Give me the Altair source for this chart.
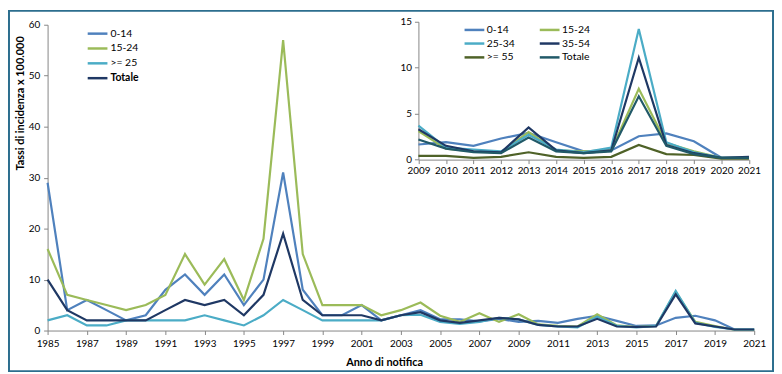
import altair as alt
import pandas as pd

# ---------------- data ----------------
years_main = list(range(1985, 2022))
main_series = ["0-14", "15-24", ">= 25", "Totale"]
main_colors = ["#4F81BD", "#9BBB59", "#4BACC6", "#1F3864"]

main_0_14 = [29, 4, 6, 4, 2, 3, 8, 11, 7, 11, 5, 10, 31, 8, 3, 3, 5, 2, 3, 4, 2.2, 2.2, 1.8, 2.3,
             1.7, 1.9, 1.5, 2.3, 2.9, 1.9, 0.9, 1.0, 2.5, 2.9, 2.0, 0.2, 0.2]
main_15_24 = [16, 7, 6, 5, 4, 5, 7, 15, 9, 14, 6, 18, 57, 15, 5, 5, 5, 3, 4, 5.5, 2.9, 1.7, 3.4, 1.7,
              3.2, 1.2, 0.9, 0.8, 3.2, 1.0, 0.7, 0.9, 7.6, 1.7, 0.9, 0.15, 0.15]
main_25 = [2, 3, 1, 1, 2, 2, 2, 2, 3, 2, 1, 3, 6, 4, 2, 2, 2, 2, 3, 3.1, 1.7, 1.3, 1.7, 2.5,
           2.2, 1.1, 0.8, 0.6, 2.7, 0.9, 0.6, 0.9, 7.8, 1.5, 0.7, 0.2, 0.2]
main_tot = [10, 4, 2, 2, 2, 2, 4, 6, 5, 6, 3, 7, 19, 6, 3, 3, 3, 2, 3, 3.6, 2.0, 1.5, 2.0, 2.5,
            2.2, 1.1, 0.8, 0.8, 2.3, 0.8, 0.7, 0.8, 7.1, 1.4, 0.8, 0.2, 0.2]
main_ticks = list(range(1985, 2022, 2))
main_yticks = [0, 10, 20, 30, 40, 50, 60]

years_inset = list(range(2009, 2022))
inset_series = ["0-14", "15-24", "25-34", "35-54", ">= 55", "Totale"]
inset_colors = ["#4F81BD", "#9BBB59", "#4BACC6", "#1F3864", "#4F6228", "#215968"]
inset_0_14 = [1.65, 1.9, 1.5, 2.3, 2.9, 1.9, 0.9, 1.0, 2.55, 2.85, 2.0, 0.2, 0.2]
inset_15_24 = [3.1, 1.2, 0.9, 0.8, 3.0, 1.0, 0.9, 1.0, 7.7, 1.8, 0.9, 0.2, 0.2]
inset_25_34 = [3.7, 1.3, 1.1, 0.9, 2.7, 1.1, 0.8, 1.3, 14.2, 1.9, 0.8, 0.2, 0.2]
inset_35_54 = [3.3, 1.5, 0.9, 0.8, 3.5, 1.0, 0.7, 1.0, 11.1, 1.6, 0.7, 0.2, 0.3]
inset_55 = [0.4, 0.4, 0.2, 0.3, 0.8, 0.3, 0.2, 0.3, 1.6, 0.6, 0.5, 0.1, 0.1]
inset_tot = [2.2, 1.2, 0.8, 0.7, 2.4, 0.9, 0.7, 0.9, 6.9, 1.5, 0.6, 0.2, 0.2]
inset_yticks = [0, 5, 10, 15]

# ---------------- tables ----------------
rows = []
for name, vals in zip(main_series, [main_0_14, main_15_24, main_25, main_tot]):
    for y, v in zip(years_main, vals):
        rows.append({"anno": y, "tasso": v, "serie": name})
df_main = pd.DataFrame(rows)

rows = []
for name, vals in zip(inset_series, [inset_0_14, inset_15_24, inset_25_34, inset_35_54, inset_55, inset_tot]):
    for y, v in zip(years_inset, vals):
        rows.append({"anno": y, "tasso": v, "serie": name})
df_inset = pd.DataFrame(rows)

# legend of the inset is laid out column by column: reorder so that rows read left-to-right
leg_order = [0, 2, 4, 1, 3, 5]
inset_domain = [inset_series[i] for i in leg_order]
inset_range = [inset_colors[i] for i in leg_order]

W, H = 714, 309
FONT = "Lato"

main = alt.Chart(df_main).mark_line(strokeWidth=2.2).encode(
    x=alt.X("anno:Q",
            scale=alt.Scale(domain=[1985, 2021], nice=False, zero=False),
            axis=alt.Axis(values=main_ticks, format="d", title="Anno di notifica",
                          titleX=340, titleFontWeight="bold", titleFontSize=11,
                          labelPadding=4, titlePadding=8, labelFlush=False)),
    y=alt.Y("tasso:Q",
            scale=alt.Scale(domain=[0, 60], nice=False),
            axis=alt.Axis(values=main_yticks, title="Tassi di incidenza x 100.000",
                          titleFontWeight="bold", titleFontSize=11, titleX=-22, titleY=79,
                          titleBaseline="bottom", labelPadding=4)),
    color=alt.Color("serie:N",
                    scale=alt.Scale(domain=main_series, range=main_colors),
                    legend=alt.Legend(orient="none", legendX=41.5, legendY=0, title=None,
                                      symbolType="M-1.33,0H1.33", symbolSize=225, symbolStrokeWidth=2.5,
                                      symbolFillColor="transparent",
                                      rowPadding=0, labelFontSize=10.5, labelOffset=4,
                                      labelFontWeight={"expr": "datum.label == 'Totale' ? 'bold' : 'normal'"})),
)

inset = alt.Chart(df_inset).mark_line(strokeWidth=2.2).encode(
    x=alt.X("anno:Q",
            scale=alt.Scale(domain=[2009, 2021], range=[374.7, 708.7], nice=False, zero=False),
            axis=alt.Axis(orient="bottom", offset=-172.7, values=years_inset, format="d",
                          title=None, labelPadding=2, labelFlush=False)),
    y=alt.Y("tasso:Q",
            scale=alt.Scale(domain=[0, 15], range=[136.3, -3], nice=False),
            axis=alt.Axis(orient="left", offset=-374.7, values=inset_yticks, title=None,
                          labelPadding=3)),
    color=alt.Color("serie:N",
                    scale=alt.Scale(domain=inset_domain, range=inset_range),
                    legend=alt.Legend(orient="none", legendX=423.3, legendY=-3, title=None,
                                      columns=2, columnPadding=20,
                                      symbolType="M-1.5,0H1.5", symbolSize=177, symbolStrokeWidth=2.5,
                                      symbolFillColor="transparent",
                                      rowPadding=0, labelFontSize=10.5, labelOffset=4.5)),
)

border = alt.Chart(pd.DataFrame({"k": [0]})).mark_rect(
    fill="transparent", stroke="#2C6E8E", strokeWidth=2
).encode(x=alt.value(-39), x2=alt.value(733), y=alt.value(-14), y2=alt.value(350))

chart = alt.layer(main, inset, border).resolve_scale(
    x="independent", y="independent", color="independent"
).properties(
    width=W, height=H,
    autosize=alt.AutoSizeParams(type="none"),
    padding={"left": 40, "top": 15, "right": 20, "bottom": 42},
).configure(font=FONT).configure_view(stroke=None).configure_axis(
    grid=False, domainColor="#868686", tickColor="#868686", tickSize=4,
    labelColor="#000000", labelFontSize=10, labelFont=FONT, titleFont=FONT, titleColor="#000000"
).configure_legend(labelFont=FONT, labelColor="#000000")

chart.save("out.html", embed_options={"renderer": "svg", "actions": False})
